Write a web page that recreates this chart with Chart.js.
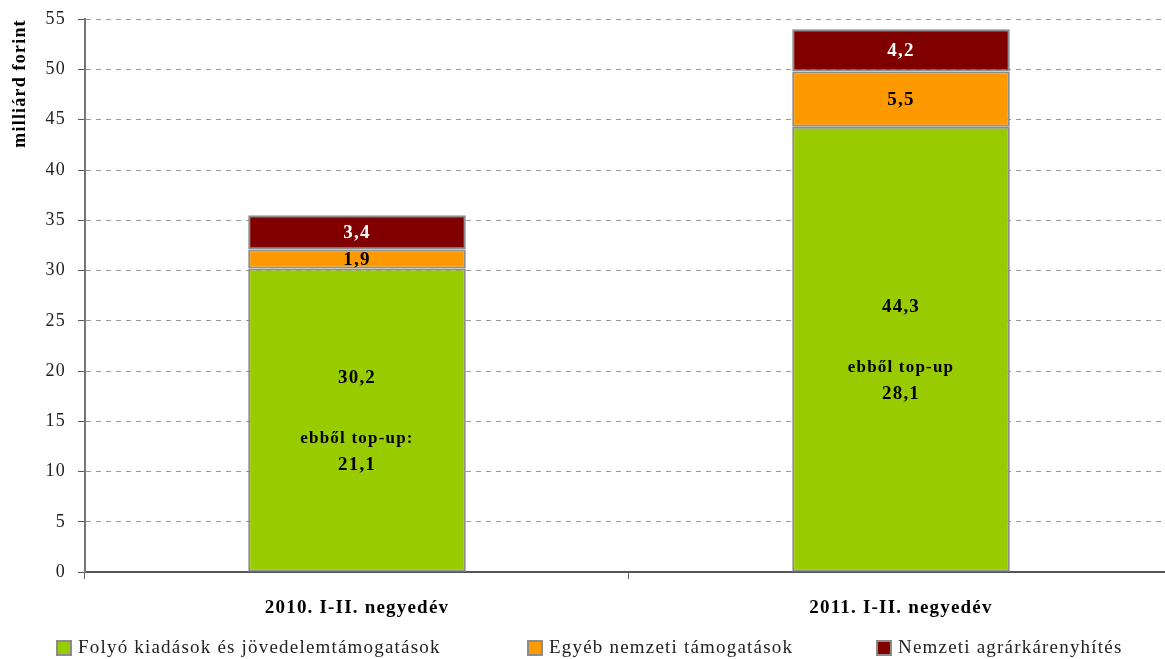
<!DOCTYPE html>
<html>
<head>
<meta charset="utf-8">
<script src="https://cdn.jsdelivr.net/npm/chart.js@4/dist/chart.umd.min.js"></script>
<style>
  html, body { margin: 0; padding: 0; background: #fff; overflow: hidden; }
  #wrap { position: absolute; left: 0; top: 0; width: 1176px; height: 659px; }
</style>
</head>
<body>
<div id="wrap"><canvas id="chart" width="1176" height="659"></canvas></div>
<script>
// categories and series (milliárd forint)
const categories = ["2010. I-II. negyedév", "2011. I-II. negyedév"];
const folyo = [30.2, 44.3];
const egyeb = [1.9, 5.5];
const karenyhites = [3.4, 4.2];
const topUp = [21.1, 28.1];
const topUpLabels = ["ebből top-up:", "ebből top-up"];
const seriesNames = [
  "Folyó kiadások és jövedelemtámogatások",
  "Egyéb nemzeti támogatások",
  "Nemzeti agrárkárenyhítés",
];
const yTicks = [0, 5, 10, 15, 20, 25, 30, 35, 40, 45, 50, 55];

const SERIF = "'Liberation Serif', 'DejaVu Serif', serif";
const SPACING = "1.2px";
const LEGEND_X = [57, 528, 877];
const fmt = (v) => v.toFixed(1).replace(".", ",");

// garamond-ish wide text: letter spacing on the whole canvas
const spacing = {
  id: "spacing",
  beforeUpdate(chart) { chart.ctx.letterSpacing = SPACING; },
  beforeDraw(chart) { chart.ctx.letterSpacing = SPACING; },
};

// value labels inside the bar segments
const barLabels = {
  id: "barLabels",
  afterDatasetsDraw(chart) {
    const ctx = chart.ctx;
    ctx.save();
    ctx.letterSpacing = SPACING;
    ctx.textAlign = "center";
    ctx.textBaseline = "middle";
    chart.data.datasets.forEach((ds, di) => {
      const meta = chart.getDatasetMeta(di);
      meta.data.forEach((bar, i) => {
        const cy = (bar.y + bar.base) / 2;
        ctx.fillStyle = di === 2 ? "#ffffff" : "#000000";
        ctx.font = "bold 19px " + SERIF;
        if (di === 0) {
          ctx.fillText(fmt(ds.data[i]), bar.x, cy - 42);
          ctx.font = "bold 17px " + SERIF;
          ctx.fillText(topUpLabels[i], bar.x, cy + 18);
          ctx.font = "bold 19px " + SERIF;
          ctx.fillText(fmt(topUp[i]), bar.x, cy + 45);
        } else {
          ctx.fillText(fmt(ds.data[i]), bar.x, cy + 1);
        }
      });
    });
    ctx.restore();
  },
};

// bottom legend, spaced like the original
const bottomLegend = {
  id: "bottomLegend",
  afterDraw(chart) {
    const ctx = chart.ctx;
    const y = chart.height - 11;
    ctx.save();
    ctx.letterSpacing = SPACING;
    ctx.font = "19px " + SERIF;
    ctx.textBaseline = "middle";
    ctx.textAlign = "left";
    chart.data.datasets.forEach((ds, i) => {
      const x = LEGEND_X[i];
      ctx.fillStyle = ds.backgroundColor;
      ctx.fillRect(x, y - 7, 14, 14);
      ctx.strokeStyle = "#8c8c8c";
      ctx.lineWidth = 2;
      ctx.strokeRect(x, y - 7, 14, 14);
      ctx.fillStyle = "#222";
      ctx.fillText(ds.label, x + 21, y);
    });
    ctx.restore();
  },
};

const mkSet = (label, data, color) => ({
  label,
  data,
  backgroundColor: color,
  borderColor: "#8c8c8c",
  borderWidth: 2,
  borderSkipped: false,
  barPercentage: 0.4,
  categoryPercentage: 1,
});

new Chart(document.getElementById("chart"), {
  type: "bar",
  data: {
    labels: categories,
    datasets: [
      mkSet(seriesNames[0], folyo, "#99cc00"),
      mkSet(seriesNames[1], egyeb, "#ff9900"),
      mkSet(seriesNames[2], karenyhites, "#800000"),
    ],
  },
  options: {
    responsive: false,
    animation: false,
    layout: { padding: { top: 0, right: 3, left: 10, bottom: 23 } },
    plugins: {
      tooltip: { enabled: false },
      legend: { display: false },
    },
    scales: {
      x: {
        stacked: true,
        grid: {
          offset: true,
          drawOnChartArea: false,
          tickLength: 7,
          tickColor: "#666",
        },
        border: { color: "#555", width: 2 },
        ticks: {
          font: { family: SERIF, size: 19, weight: "bold" },
          color: "#000",
          padding: 17,
        },
      },
      y: {
        stacked: true,
        min: 0,
        max: 55,
        afterBuildTicks(axis) {
          axis.ticks = yTicks.map((v) => ({ value: v }));
        },
        grid: {
          color: "#999",
          tickLength: 7,
          tickColor: "#555",
        },
        border: { color: "#777", width: 2, dash: [5, 5] },
        ticks: {
          font: { family: SERIF, size: 18, lineHeight: 0.8 },
          color: "#222",
          padding: 12,
        },
        title: {
          display: true,
          align: "end",
          text: "milliárd forint",
          font: { family: SERIF, size: 18, weight: "bold" },
          color: "#000",
          padding: { top: 0, bottom: 2 },
        },
      },
    },
  },
  plugins: [spacing, barLabels, bottomLegend],
});
</script>
</body>
</html>
